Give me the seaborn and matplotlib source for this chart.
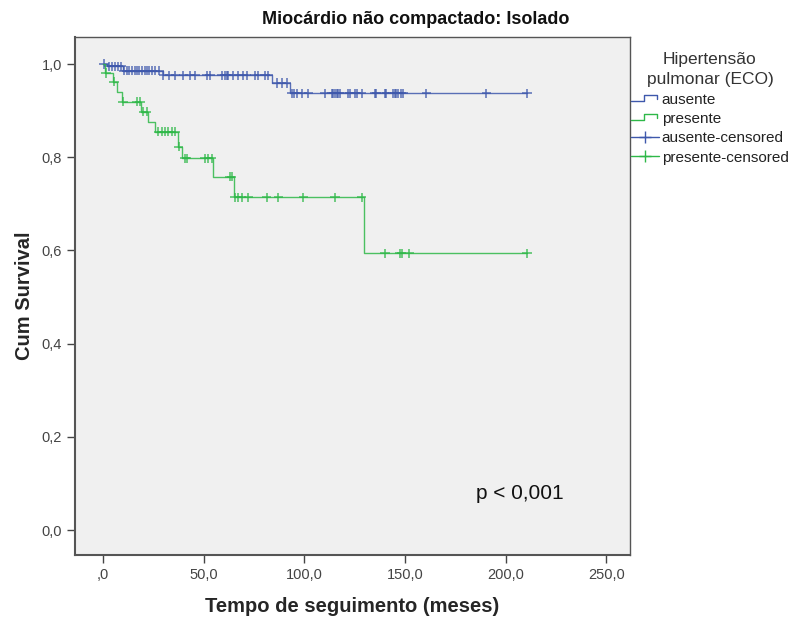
import matplotlib
matplotlib.use("Agg")
import matplotlib.pyplot as plt
import numpy as np
import pandas as pd
import seaborn as sns
from matplotlib.legend_handler import HandlerBase
from matplotlib.lines import Line2D

# Kaplan-Meier steps
aus_event_t = [0, 2, 10, 30, 84, 93]
aus_surv = [1.0, 0.995, 0.986, 0.976, 0.959, 0.937]
aus_cens_t = [0.5, 3, 4.5, 6, 7.5, 9, 10.5, 12, 13, 14.5, 16, 17, 18, 19.5, 21, 22, 23,
              24.5, 26, 28, 30, 33, 36, 39.9, 43.2, 45.7, 51.5, 53.1, 58.9, 60.6, 61.4,
              62.2, 64.7, 67.2, 69.6, 71.3, 75.4, 77.1, 80.4, 82, 86.2, 88.7, 91.2, 93.7,
              95, 96.3, 98.8, 102, 110.2, 113.5, 114.3, 115.2, 116, 116.8, 117.6, 121.7,
              122.6, 125.1, 125.9, 128.4, 135, 135.8, 139.9, 140.7, 144, 144.8, 145.7,
              146.5, 148.2, 149, 160.6, 190.4, 210.5]

pre_event_t = [0, 1, 5, 6.8, 9.3, 19, 22.5, 26, 37.4, 39, 54.8, 65, 129.6]
pre_surv = [1.0, 0.981, 0.962, 0.941, 0.919, 0.898, 0.876, 0.855, 0.823, 0.798,
            0.758, 0.714, 0.594]
pre_cens_t = [1.5, 5.5, 10, 16.7, 18.4, 20, 21.7, 27.5, 29.1, 30.8, 32.4, 34.1, 35.7,
              37.6, 40.7, 41.5, 50.6, 52.3, 54, 63, 63.9, 65.5, 67.2, 68.9, 72.2, 81.3,
              87.1, 99.5, 115.2, 128.5, 140, 147.5, 148.3, 152.1, 210.5]

end_t = 210.5
groups = ["ausente", "presente"]
colors = {"ausente": "#3E58AC", "presente": "#2EB848"}

xticks = [0, 50, 100, 150, 200, 250]
xtick_labels = [",0", "50,0", "100,0", "150,0", "200,0", "250,0"]
yticks = [0.0, 0.2, 0.4, 0.6, 0.8, 1.0]
ytick_labels = ["0,0", "0,2", "0,4", "0,6", "0,8", "1,0"]


def step_frame(name, ev_t, ev_s):
    return pd.DataFrame({"t": ev_t + [end_t], "s": ev_s + [ev_s[-1]], "grupo": name})


def cens_frame(name, ev_t, ev_s, c_t):
    idx = np.searchsorted(ev_t, c_t, side="right") - 1
    return pd.DataFrame({"t": c_t, "s": np.array(ev_s)[idx], "grupo": name})


steps = pd.concat([step_frame("ausente", aus_event_t, aus_surv),
                   step_frame("presente", pre_event_t, pre_surv)])
cens = pd.concat([cens_frame("ausente", aus_event_t, aus_surv, aus_cens_t),
                  cens_frame("presente", pre_event_t, pre_surv, pre_cens_t)])


class StepHandler(HandlerBase):
    def create_artists(self, legend, orig_handle, xdescent, ydescent, width, height,
                       fontsize, trans):
        xs = np.array([0, 0.45, 0.45, 0.95, 0.95]) * width - xdescent
        ys = np.array([0.25, 0.25, 0.85, 0.85, 0.45]) * height - ydescent
        ln = Line2D(xs, ys, color=orig_handle.get_color(), lw=1.0, transform=trans)
        return [ln]


sns.set_style("ticks")
plt.rcParams["font.family"] = ["Liberation Sans", "DejaVu Sans"]

fig = plt.figure(figsize=(7.92, 6.18), dpi=100)
ax = fig.add_axes([75 / 792, 63 / 618, 555 / 792, 518 / 618])
ax.set_facecolor("#F0F0F0")

sns.lineplot(data=steps, x="t", y="s", hue="grupo", palette=colors, drawstyle="steps-post",
             estimator=None, sort=False, lw=1.0, alpha=0.85, legend=False, ax=ax)
sns.scatterplot(data=cens, x="t", y="s", hue="grupo", palette=colors, marker="+", s=45,
                linewidth=1.1, alpha=0.85, legend=False, ax=ax)

ax.set_xlim(-13.9, 261.7)
ax.set_ylim(-0.0536, 1.058)
ax.set_xticks(xticks)
ax.set_xticklabels(xtick_labels)
ax.set_yticks(yticks)
ax.set_yticklabels(ytick_labels)
ax.tick_params(direction="out", length=6, width=1, colors="#444444", labelsize=10.5,
               labelcolor="#444444")
for sp in ax.spines.values():
    sp.set_visible(True)
    sp.set_color("#555555")
    sp.set_linewidth(1.0)
ax.spines["left"].set_linewidth(1.5)
ax.spines["bottom"].set_linewidth(1.5)

fig.text(416 / 792, 1 - 20 / 618, "Miocárdio não compactado: Isolado", fontsize=13,
         fontweight="bold", ha="center", va="center", color="#111111")
ax.set_xlabel("Tempo de seguimento (meses)", fontsize=14.5, fontweight="bold", labelpad=11)
ax.set_ylabel("Cum Survival", fontsize=14.5, fontweight="bold", labelpad=5)

ax.text(0.722, 0.118, "p < 0,001", transform=ax.transAxes, fontsize=15,
        va="center", ha="left", color="#111111")

h_aus = Line2D([], [], color=colors["ausente"])
h_pre = Line2D([], [], color=colors["presente"])
h_aus_c = Line2D([], [], color=colors["ausente"], marker="+", markersize=9, lw=1.0)
h_pre_c = Line2D([], [], color=colors["presente"], marker="+", markersize=9, lw=1.0)
leg = fig.legend(handles=[h_aus, h_pre, h_aus_c, h_pre_c],
                 labels=["ausente", "presente", "ausente-censored", "presente-censored"],
                 handler_map={h_aus: StepHandler(), h_pre: StepHandler()},
                 title="Hipertensão\npulmonar (ECO)", loc="upper left",
                 bbox_to_anchor=(0.797, 0.916), frameon=False, fontsize=11,
                 title_fontsize=12.5, handlelength=1.8, handletextpad=0.2,
                 labelspacing=0.35, borderpad=0, borderaxespad=0)
leg.get_title().set_multialignment("center")
leg.get_title().set_linespacing(1.45)
leg.get_title().set_color("#333333")
for t in leg.get_texts():
    t.set_color("#222222")

fig.savefig("out.png", dpi=100, facecolor="white")
